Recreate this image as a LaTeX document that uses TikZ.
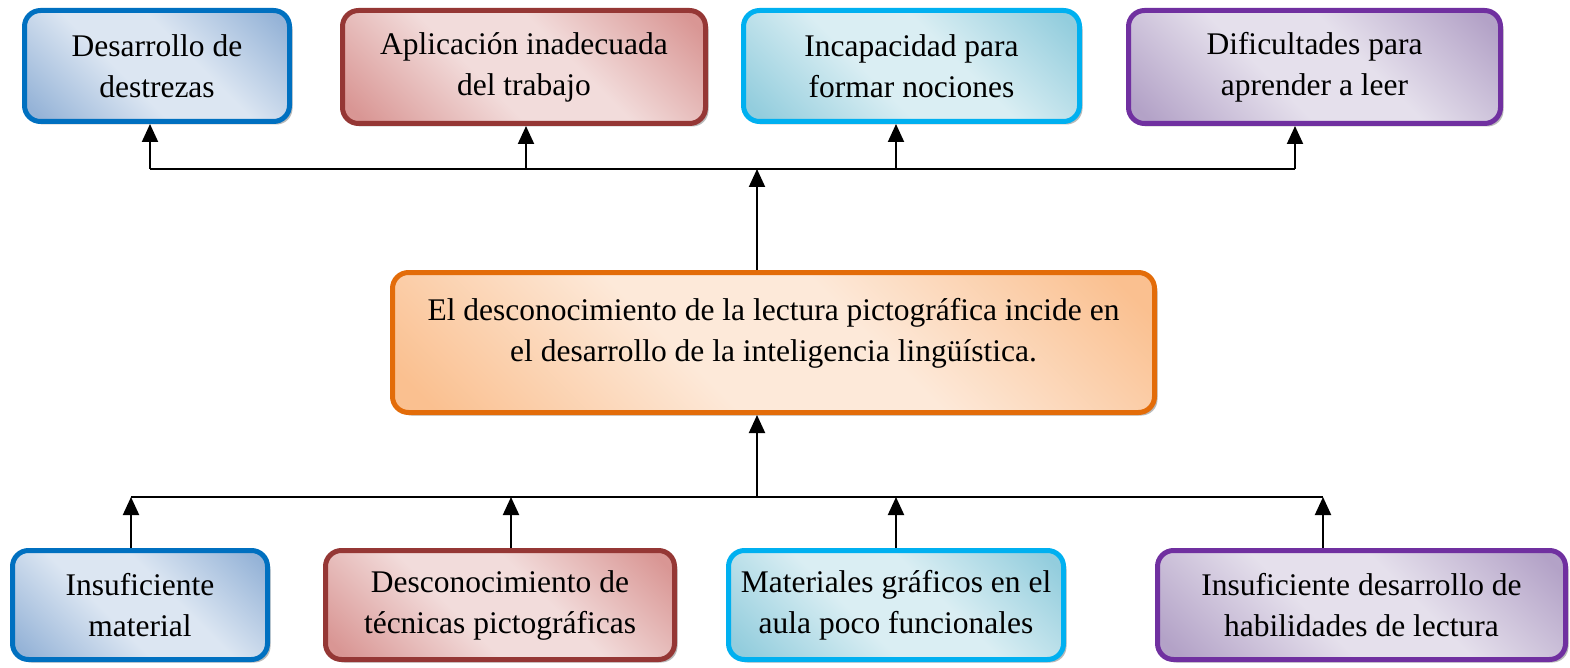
\documentclass[tikz,border=0pt]{standalone}
\usepackage{fontspec}
\setmainfont{Liberation Serif}
\usetikzlibrary{arrows.meta,shadows}
\definecolor{bB}{HTML}{0070C0}\definecolor{bD}{HTML}{95B3D7}\definecolor{bL}{HTML}{DCE6F2}
\definecolor{rB}{HTML}{953735}\definecolor{rD}{HTML}{D99694}\definecolor{rL}{HTML}{F2DCDB}
\definecolor{cB}{HTML}{00B0F0}\definecolor{cD}{HTML}{93CDDD}\definecolor{cL}{HTML}{DAEEF3}
\definecolor{pB}{HTML}{7030A0}\definecolor{pD}{HTML}{B3A2C7}\definecolor{pL}{HTML}{E5E0EC}
\definecolor{oB}{HTML}{E36C09}\definecolor{oD}{HTML}{FAC090}\definecolor{oL}{HTML}{FDE9D9}
\newcommand{\mkshade}[1]{%
  \pgfdeclareverticalshading{sh#1}{100bp}{color(0bp)=(#1D); color(18bp)=(#1D);
    color(42bp)=(#1L); color(58bp)=(#1L); color(82bp)=(#1D); color(100bp)=(#1D)}}
\mkshade{b}\mkshade{r}\mkshade{c}\mkshade{p}\mkshade{o}
\tikzset{
  box/.style={draw, line width=5pt, rounded corners=16pt, inner sep=0pt, align=center,
    font=\fontsize{31.5}{41}\selectfont, text=black,
    drop shadow={shadow xshift=3pt, shadow yshift=-3pt, fill=gray!55, opacity=1}},
  boxc/.style={box, draw=#1B, shading=sh#1, shading angle=-45},
  blue/.style={boxc=b},
  red/.style={boxc=r},
  cyan/.style={boxc=c},
  purple/.style={boxc=p},
  orange/.style={boxc=o},
  conn/.style={draw=black, line width=2pt},
  arr/.style={conn, -{Triangle[length=18pt,width=16pt]}}
}
\begin{document}
\begin{tikzpicture}[x=1pt,y=-1pt]
\path[use as bounding box] (0,0) rectangle (1570,668);
% top row
\node[blue, minimum width=265pt, minimum height=111pt] (t1) at (157,66) {Desarrollo de\\destrezas};
\node[red, minimum width=363pt, minimum height=113pt] (t2) at (524,67) {Aplicación inadecuada\\del trabajo};
\node[cyan, minimum width=336pt, minimum height=111pt] (t3) at (911.5,66) {Incapacidad para\\formar nociones};
\node[purple, minimum width=372pt, minimum height=113pt] (t4) at (1314.5,67) {Dificultades para\\aprender a leer};
% center
\node[orange, minimum width=762pt, minimum height=140pt] (c) at (773.5,342.5) {\begin{tabular}{@{}c@{}}El desconocimiento de la lectura pictográfica incide en\\el desarrollo de la inteligencia lingüística.\\[20pt]\end{tabular}};
% bottom row
\node[blue, minimum width=255pt, minimum height=109pt] (b1) at (140,605) {Insuficiente\\material};
\node[red, minimum width=349pt, minimum height=109pt] (b2) at (500,605) {Desconocimiento de\\técnicas pictográficas};
\node[cyan, minimum width=335pt, minimum height=109pt] (b3) at (896,605) {Materiales gráficos en el\\aula poco funcionales};
\node[purple, minimum width=408pt, minimum height=109pt] (b4) at (1361.5,605) {Insuficiente desarrollo de\\habilidades de lectura};
% connectors top
\coordinate (tb1) at (150,169);
\coordinate (tb2) at (526,169);
\coordinate (tb3) at (896,169);
\coordinate (tb4) at (1295,169);
\coordinate (tbc) at (757,169);
\draw[conn] (tb1) -- (tb4);
\draw[arr] (tb1) -- (tb1 |- t1.south);
\draw[arr] (tb2) -- (tb2 |- t2.south);
\draw[arr] (tb3) -- (tb3 |- t3.south);
\draw[arr] (tb4) -- (tb4 |- t4.south);
\draw[arr] (tbc |- c.north) -- (tbc);
% connectors bottom
\coordinate (bb1) at (131,497);
\coordinate (bb2) at (511,497);
\coordinate (bb3) at (896,497);
\coordinate (bb4) at (1323,497);
\coordinate (bbc) at (757,497);
\draw[conn] (bb1) -- (bb4);
\draw[arr] (bb1 |- b1.north) -- (bb1);
\draw[arr] (bb2 |- b2.north) -- (bb2);
\draw[arr] (bb3 |- b3.north) -- (bb3);
\draw[arr] (bb4 |- b4.north) -- (bb4);
\draw[arr] (bbc) -- (bbc |- c.south);
\end{tikzpicture}
\end{document}
